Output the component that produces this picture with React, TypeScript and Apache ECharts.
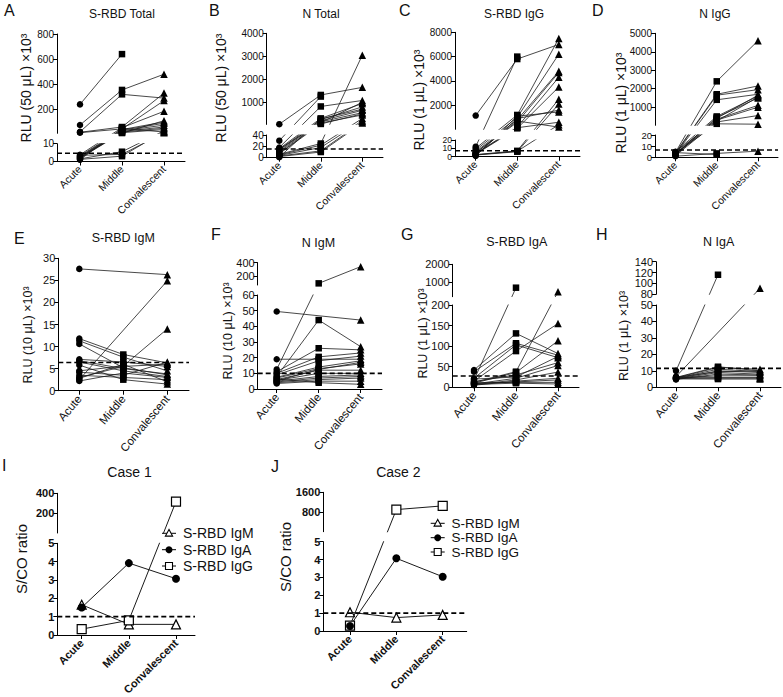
import React, { useEffect, useRef } from 'react';
import * as echarts from 'echarts';

const timepoints = ['Acute', 'Middle', 'Convalescent'];

// ---------- Panel A: S-RBD Total (RLU 50 uL x10^3) ----------
const A_acute: (number | null)[] = [240, 76, 22, 18, 15, 3.8, 3.2, 2.8, 2.5, 2.2, 2.0, 1.8, 1.5, 1.2, 1.0, 2.6, 3.5];
const A_middle: (number | null)[] = [640, 355, 320, 60, 45, 55, 40, 35, 30, 25, 20, 15, 5.5, 3, 50, 12, 4];
const A_conv: (number | null)[] = [null, 480, 290, 330, 270, 185, 100, 90, 75, 60, 50, 40, 30, 25, 20, 110, 15];
const A_cutoff = 4.6;
const A_ticksLow = [0, 10];
const A_ticksHigh = [200, 400, 600, 800];

// ---------- Panel B: N Total ----------
const B_acute: (number | null)[] = [50, 30, 18, 16, 14, 12, 10, 8, 6, 5, 4, 3, 2, 1, 15, 7];
const B_middle: (number | null)[] = [1320, 1250, 820, 300, 250, 200, 150, 100, 25, 22, 18, 12, 10, 280, 120, 60];
const B_conv: (number | null)[] = [1650, null, 1080, 950, 800, 650, 550, 450, 3050, 300, 200, 150, 100, 700, 1000, 500];
const B_cutoff = 15.3;
const B_ticksLow = [0, 20, 40];
const B_ticksHigh = [1000, 2000, 3000, 4000];

// ---------- Panel C: S-RBD IgG ----------
const C_acute: (number | null)[] = [1150, 12, 10, 8, 6, 5, 4, 3, 2.5, 2, 1.5, 1, 3.5, 2.2, 4.5];
const C_middle: (number | null)[] = [5800, 6000, 1200, 1000, 800, 600, 200, 100, 7, 6, 900, 1100, 150, 6.5, 700];
const C_conv: (number | null)[] = [7000, null, 7500, 6200, 4800, 4700, 4300, 3500, 2500, 2100, 1600, 1450, 600, 400, 200];
const C_cutoff = 7.2;
const C_ticksLow = [0, 10, 20];
const C_ticksHigh = [2000, 4000, 6000, 8000];

// ---------- Panel D: N IgG ----------
const D_acute: (number | null)[] = [4.5, 4, 3.5, 3, 5, 2.5, 2, 4.8, 1.5, 3.8, 1, 4.2, 2.8, 3.2];
const D_middle: (number | null)[] = [2400, 1700, 1650, 1400, 500, 450, 350, 300, 200, 100, 3.5, 2.5, 250, 400];
const D_conv: (number | null)[] = [4600, 2150, 1950, 1700, 1600, 1500, 1100, 1000, 550, 80, 5.5, null, 1550, 1650];
const D_cutoff = 6.5;
const D_ticksLow = [0, 10, 20];
const D_ticksHigh = [1000, 2000, 3000, 4000, 5000];

// ---------- Panel E: S-RBD IgM ----------
const E_acute: (number | null)[] = [27.6, 11.8, 11.3, 10.6, 7.1, 6.8, 6.5, 2.5, 4.5, 4.2, 3.5, 2.8, 5.8, 2.2, 3.0];
const E_middle: (number | null)[] = [null, 8.2, 7.6, 5.2, 6.5, 5.0, 4.5, null, 5.6, 3.5, 3.0, 6.0, 2.5, 4.0, 5.5];
const E_conv: (number | null)[] = [26.3, 6.3, 4.5, 3.6, 5.5, 3.8, 3.2, 24.9, 14, 6.5, 2.5, 2.0, 1.5, 3.0, 6.0];
const E_cutoff = 6.4;
const E_ticks = [0, 5, 10, 15, 20, 25, 30];

// ---------- Panel F: N IgM ----------
const F_acute: (number | null)[] = [49.5, 19, 12.5, 8, 11, 10, 9, 7.5, 7, 6, 5.5, 5, 4.5, 4, 3.5, 6.5, 5.2];
const F_middle: (number | null)[] = [null, 19, 85, 44, 26, 20.5, 18, 14, 13, 12, 10, 8, 7, 6, 5, 4, 12.5];
const F_conv: (number | null)[] = [44, 19, 340, 27, 25, 23, 21, 18, 16, 12, 10, 9, 8, 7, 5, 3, 17];
const F_cutoff = 10;
const F_ticksLow = [0, 10, 20, 30, 40, 50, 60];
const F_ticksHigh = [200, 400];

// ---------- Panel G: S-RBD IgA ----------
const G_acute: (number | null)[] = [42, 38, 22, 18, 15, 12, 10, 8, 6, 5, 9, 11, 7, 20, 14];
const G_middle: (number | null)[] = [131, 107, 103, 700, 88, 38, 36, 22, 18, 15, 13, 12, 10, 25, 30];
const G_conv: (number | null)[] = [82, 78, 72, null, 155, 480, 113, 53, 37, 22, 18, 12, 8, 75, 60];
const G_cutoff = 27.5;
const G_ticksLow = [0, 50, 100, 150, 200];
const G_ticksHigh = [1000, 2000];

// ---------- Panel H: N IgA ----------
const H_acute: (number | null)[] = [10, 6.5, 6, 5.8, 5.5, 5.2, 5, 4.8, 5.6, 6.2, 5.4, 5.1, 6];
const H_middle: (number | null)[] = [116, null, 12.5, 12, 11, 10, 9, 8, 7, 6, 5.5, 5, 9.5];
const H_conv: (number | null)[] = [null, 91, 10, 11, 9.5, 9, 8, 7.5, 7, 6, 5.5, 5, 10];
const H_cutoff = 11.5;
const H_ticksLow = [0, 10, 20, 30, 40, 50];
const H_ticksHigh = [80, 100, 120, 140];

// ---------- Panel I: Case 1 (S/CO ratio) ----------
const I_IgM: (number | null)[] = [1.65, 0.58, 0.58];
const I_IgA: (number | null)[] = [1.5, 3.92, 3.07];
const I_IgG: (number | null)[] = [0.32, 0.8, 318];
const I_ticksLow = [0, 1, 2, 3, 4, 5];
const I_ticksHigh = [200, 400];

// ---------- Panel J: Case 2 ----------
const J_IgM: (number | null)[] = [1.05, 0.75, 0.9];
const J_IgA: (number | null)[] = [0.28, 4.07, 3.04];
const J_IgG: (number | null)[] = [0.3, 900, 1050];
const J_ticksLow = [0, 1, 2, 3, 4, 5];
const J_ticksHigh = [800, 1600];
const caseCutoff = 1;
const caseNames = ['S-RBD IgM', 'S-RBD IgA', 'S-RBD IgG'];

const FONT = '"Liberation Sans", Arial, Helvetica, sans-serif';

type Marker = { symbol: string; fill: string; size: number; z: number };
type Trace = { vals: (number | null)[]; markers: Marker[]; lw: number };
type Seg = { min: number; max: number; top: number; bottom: number; ticks: number[]; fs?: number };
type Panel = {
  letter: string; lx: number; ly: number;
  title: string; tx: number; ty: number; tsize: number;
  ylabel: string; yx: number; yy: number; ysize: number;
  axisX: number; axisEnd: number; c0: number; c2: number;
  segs: Seg[]; cutoff: number; traces: Trace[];
  tickSize: number; bold: boolean; xlSize: number; xlRot: number;
  legend?: { ix: number; tx: number; ys: number[]; size: number };
};

const circ: Marker = { symbol: 'circle', fill: '#000', size: 6.5, z: 3 };
const sq: Marker = { symbol: 'rect', fill: '#000', size: 6.5, z: 3 };
const tri: Marker = { symbol: 'triangle', fill: '#000', size: 7.5, z: 3 };

function rluTraces(a: (number | null)[], m: (number | null)[], c: (number | null)[]): Trace[] {
  return a.map((v, i) => ({ vals: [v, m[i], c[i]], markers: [circ, sq, tri], lw: 0.8 }));
}
const oTri: Marker = { symbol: 'triangle', fill: '#fff', size: 9, z: 3 };
const fCirc: Marker = { symbol: 'circle', fill: '#000', size: 8, z: 5 };
const oSq: Marker = { symbol: 'rect', fill: '#fff', size: 9, z: 4 };
function caseTraces(m: (number | null)[], a: (number | null)[], g: (number | null)[]): Trace[] {
  return [
    { vals: m, markers: [oTri, oTri, oTri], lw: 1 },
    { vals: a, markers: [fCirc, fCirc, fCirc], lw: 1 },
    { vals: g, markers: [oSq, oSq, oSq], lw: 1 },
  ];
}

const rlu50 = 'RLU (50 μL) ×10³';
const rlu1 = 'RLU (1 μL) ×10³';
const rlu10 = 'RLU (10 μL) ×10³';

const panels: Panel[] = [
  { letter: 'A', lx: 4, ly: 10.5, title: 'S-RBD Total', tx: 122, ty: 14, tsize: 12, ylabel: rlu50, yx: 26, yy: 88, ysize: 14,
    axisX: 57, axisEnd: 185, c0: 80, c2: 164,
    segs: [{ min: 0, max: 10, top: 143.7, bottom: 161.5, ticks: A_ticksLow }, { min: 10, max: 800, top: 34, bottom: 133.3, ticks: A_ticksHigh }],
    cutoff: A_cutoff, traces: rluTraces(A_acute, A_middle, A_conv), tickSize: 10, bold: false, xlSize: 10.5, xlRot: 45 },
  { letter: 'B', lx: 209, ly: 10.5, title: 'N Total', tx: 321, ty: 14, tsize: 12, ylabel: rlu50, yx: 221, yy: 88, ysize: 14,
    axisX: 266.7, axisEnd: 383, c0: 279.3, c2: 362.3,
    segs: [{ min: 0, max: 40, top: 135, bottom: 157.7, ticks: B_ticksLow }, { min: 40, max: 4000, top: 33.3, bottom: 124.4, ticks: B_ticksHigh }],
    cutoff: B_cutoff, traces: rluTraces(B_acute, B_middle, B_conv), tickSize: 10, bold: false, xlSize: 10.5, xlRot: 45 },
  { letter: 'C', lx: 399, ly: 10.5, title: 'S-RBD IgG', tx: 514, ty: 13.5, tsize: 12, ylabel: rlu1, yx: 419, yy: 100, ysize: 14,
    axisX: 455, axisEnd: 580, c0: 475.7, c2: 558.8,
    segs: [{ min: 0, max: 20, top: 140, bottom: 156.7, ticks: C_ticksLow, fs: 8.5 }, { min: 20, max: 8000, top: 32.3, bottom: 129.3, ticks: C_ticksHigh }],
    cutoff: C_cutoff, traces: rluTraces(C_acute, C_middle, C_conv), tickSize: 10, bold: false, xlSize: 10.5, xlRot: 45 },
  { letter: 'D', lx: 592, ly: 10.5, title: 'N IgG', tx: 715, ty: 14, tsize: 12, ylabel: rlu1, yx: 621, yy: 103, ysize: 14,
    axisX: 655, axisEnd: 778, c0: 675.5, c2: 758,
    segs: [{ min: 0, max: 20, top: 135, bottom: 157.3, ticks: D_ticksLow, fs: 9.5 }, { min: 20, max: 5000, top: 33.3, bottom: 125.3, ticks: D_ticksHigh }],
    cutoff: D_cutoff, traces: rluTraces(D_acute, D_middle, D_conv), tickSize: 10, bold: false, xlSize: 10.5, xlRot: 45 },
  { letter: 'E', lx: 14, ly: 238.5, title: 'S-RBD IgM', tx: 123.3, ty: 238.3, tsize: 12.5, ylabel: rlu10, yx: 27.5, yy: 335, ysize: 12.5,
    axisX: 58.3, axisEnd: 189, c0: 79.3, c2: 167.3,
    segs: [{ min: 0, max: 30, top: 258.3, bottom: 390.7, ticks: E_ticks }],
    cutoff: E_cutoff, traces: rluTraces(E_acute, E_middle, E_conv), tickSize: 11, bold: false, xlSize: 11.5, xlRot: 50 },
  { letter: 'F', lx: 211, ly: 234, title: 'N IgM', tx: 318.5, ty: 243, tsize: 12.5, ylabel: rlu10, yx: 227.5, yy: 331, ysize: 12.5,
    axisX: 257.7, axisEnd: 382, c0: 276.7, c2: 360.7,
    segs: [{ min: 0, max: 60, top: 295, bottom: 389, ticks: F_ticksLow }, { min: 60, max: 400, top: 262.7, bottom: 285, ticks: F_ticksHigh }],
    cutoff: F_cutoff, traces: rluTraces(F_acute, F_middle, F_conv), tickSize: 11, bold: false, xlSize: 11.5, xlRot: 50 },
  { letter: 'G', lx: 401, ly: 234, title: 'S-RBD IgA', tx: 516.7, ty: 241.7, tsize: 12.5, ylabel: rlu1, yx: 422.5, yy: 333.5, ysize: 12.5,
    axisX: 452.7, axisEnd: 579, c0: 474, c2: 558,
    segs: [{ min: 0, max: 200, top: 305, bottom: 387.3, ticks: G_ticksLow }, { min: 200, max: 2000, top: 264.3, bottom: 296.7, ticks: G_ticksHigh }],
    cutoff: G_cutoff, traces: rluTraces(G_acute, G_middle, G_conv), tickSize: 11, bold: false, xlSize: 11.5, xlRot: 50 },
  { letter: 'H', lx: 596, ly: 234, title: 'N IgA', tx: 718.7, ty: 241.7, tsize: 12.5, ylabel: rlu1, yx: 624, yy: 336, ysize: 12.5,
    axisX: 656, axisEnd: 781, c0: 676, c2: 760,
    segs: [{ min: 0, max: 50, top: 305, bottom: 387.3, ticks: H_ticksLow }, { min: 80, max: 140, top: 261.7, bottom: 294.3, ticks: H_ticksHigh }],
    cutoff: H_cutoff, traces: rluTraces(H_acute, H_middle, H_conv), tickSize: 11, bold: false, xlSize: 11.5, xlRot: 50 },
  { letter: 'I', lx: 2, ly: 465, title: 'Case 1', tx: 129.5, ty: 472.3, tsize: 14, ylabel: 'S/CO ratio', yx: 21.7, yy: 559, ysize: 15,
    axisX: 57.3, axisEnd: 195, c0: 81.7, c2: 176,
    segs: [{ min: 0, max: 5, top: 543.3, bottom: 635, ticks: I_ticksLow }, { min: 5, max: 400, top: 493.3, bottom: 533, ticks: I_ticksHigh }],
    cutoff: caseCutoff, traces: caseTraces(I_IgM, I_IgA, I_IgG), tickSize: 11, bold: true, xlSize: 11, xlRot: 45,
    legend: { ix: 169, tx: 183, ys: [533.3, 549.7, 566], size: 14 } },
  { letter: 'J', lx: 271, ly: 466, title: 'Case 2', tx: 398.3, ty: 471.7, tsize: 14, ylabel: 'S/CO ratio', yx: 285, yy: 557, ysize: 15,
    axisX: 323.3, axisEnd: 466.7, c0: 350, c2: 442.7,
    segs: [{ min: 0, max: 5, top: 541.7, bottom: 631, ticks: J_ticksLow }, { min: 5, max: 1600, top: 492.3, bottom: 531.7, ticks: J_ticksHigh }],
    cutoff: caseCutoff, traces: caseTraces(J_IgM, J_IgA, J_IgG), tickSize: 11, bold: true, xlSize: 11, xlRot: 45,
    legend: { ix: 437.7, tx: 451.5, ys: [523.3, 537.7, 552], size: 13.5 } },
];

function buildOption() {
  const grid: any[] = [];
  const xAxis: any[] = [];
  const yAxis: any[] = [];
  const series: any[] = [];
  const graphic: any[] = [];
  const ink = '#111';

  panels.forEach((p) => {
    const spacing = (p.c2 - p.c0) / 2;
    const xmin = (p.axisX - p.c0) / spacing;
    const xmax = (p.axisEnd - p.c0) / spacing;
    const segOf = (v: number) => {
      for (let k = 0; k < p.segs.length; k++) if (v <= p.segs[k].max) return k;
      return p.segs.length - 1;
    };
    const px = (v: number) => {
      const s = p.segs[segOf(v)];
      return s.bottom - ((v - s.min) / (s.max - s.min)) * (s.bottom - s.top);
    };
    const toSeg = (v: number, k: number) => {
      const s = p.segs[k];
      return s.min + ((s.bottom - px(v)) / (s.bottom - s.top)) * (s.max - s.min);
    };

    p.segs.forEach((s, k) => {
      const gi = grid.length;
      grid.push({ left: p.axisX, top: s.top, width: p.axisEnd - p.axisX, height: s.bottom - s.top, containLabel: false, outerBoundsMode: 'none' });
      xAxis.push({
        gridIndex: gi, type: 'value', min: xmin, max: xmax, show: k === 0,
        axisLine: { show: true, onZero: false, lineStyle: { color: '#000', width: 1 } },
        axisTick: { show: true, customValues: [0, 1, 2], length: 4, lineStyle: { color: '#000', width: 1 } },
        axisLabel: {
          show: true, customValues: [0, 1, 2], rotate: p.xlRot, margin: 6, hideOverlap: false,
          showMinLabel: true, showMaxLabel: true,
          formatter: (v: number) => timepoints[Math.round(v)] ?? '',
          fontSize: p.xlSize, fontFamily: FONT, color: ink, fontWeight: p.bold ? 'bold' : 'normal',
        },
        splitLine: { show: false },
      });
      const fs = s.fs ?? p.tickSize;
      // two y axes on the same grid: alternate tick labels, so that tight labels are never dropped
      const even = s.ticks.filter((_, i) => i % 2 === 0);
      const odd = s.ticks.filter((_, i) => i % 2 === 1);
      const yi = yAxis.length;
      [even, odd].forEach((tks, part) => {
        yAxis.push({
          gridIndex: gi, type: 'value', min: s.min, max: s.max, position: 'left', offset: 0,
          axisLine: { show: part === 0, onZero: false, lineStyle: { color: '#000', width: 1 } },
          axisTick: { show: tks.length > 0, customValues: tks, length: 4, lineStyle: { color: '#000', width: 1 } },
          axisLabel: {
            show: tks.length > 0, customValues: tks, margin: 3, hideOverlap: false,
            showMinLabel: true, showMaxLabel: true,
            formatter: (v: number) => String(v),
            fontSize: fs, fontFamily: FONT, color: ink, fontWeight: p.bold ? 'bold' : 'normal',
          },
          splitLine: { show: false },
        });
      });

      // connecting lines (continuous in display space, clipped to each segment)
      p.traces.forEach((tr) => {
        const data: number[][] = [];
        tr.vals.forEach((v, j) => { if (v != null) data.push([j, toSeg(v, k)]); });
        series.push({
          type: 'line', xAxisIndex: gi, yAxisIndex: yi, data, symbol: 'none', showSymbol: false,
          clip: true, silent: true, lineStyle: { color: '#1a1a1a', width: tr.lw }, z: 2,
        });
      });

      // markers belonging to this segment
      const groups = new Map<string, { m: Marker; data: number[][] }>();
      p.traces.forEach((tr) => {
        tr.vals.forEach((v, j) => {
          if (v == null || segOf(v) !== k) return;
          const m = tr.markers[j];
          const key = m.symbol + '|' + m.fill + '|' + m.size;
          if (!groups.has(key)) groups.set(key, { m, data: [] });
          groups.get(key)!.data.push([j, v]);
        });
      });
      groups.forEach((g) => {
        series.push({
          type: 'scatter', xAxisIndex: gi, yAxisIndex: yi, data: g.data, symbol: g.m.symbol, symbolSize: g.m.size,
          itemStyle: { color: g.m.fill, borderColor: '#000', borderWidth: g.m.fill === '#fff' ? 1.2 : 0, opacity: 1 },
          z: g.m.z, silent: true, clip: false,
        });
      });

      if (k === 0) {
        series.push({
          type: 'line', xAxisIndex: gi, yAxisIndex: yi, data: [[xmin, p.cutoff], [xmax, p.cutoff]],
          symbol: 'none', showSymbol: false, silent: true, clip: false,
          lineStyle: { color: '#000', width: 1.6, type: [5, 3] }, z: 6,
        });
      }
    });

    // texts
    graphic.push({ type: 'text', x: p.lx, y: p.ly, silent: true,
      style: { text: p.letter, fontSize: 16, fontFamily: FONT, fill: ink, align: 'left', verticalAlign: 'middle' } });
    graphic.push({ type: 'text', x: p.tx, y: p.ty, silent: true,
      style: { text: p.title, fontSize: p.tsize, fontFamily: FONT, fill: ink, align: 'center', verticalAlign: 'middle' } });
    graphic.push({ type: 'text', x: p.yx, y: p.yy, rotation: Math.PI / 2, silent: true,
      style: { text: p.ylabel, fontSize: p.ysize, fontFamily: FONT, fill: ink, align: 'center', verticalAlign: 'middle' } });

    if (p.legend) {
      const L = p.legend;
      caseNames.forEach((name, i) => {
        const y = L.ys[i];
        graphic.push({ type: 'line', silent: true, shape: { x1: L.ix - 7, y1: y, x2: L.ix + 7, y2: y }, style: { stroke: '#000', lineWidth: 1 } });
        if (i === 0) {
          graphic.push({ type: 'polygon', silent: true, shape: { points: [[L.ix, y - 3.8], [L.ix - 3.6, y + 2.8], [L.ix + 3.6, y + 2.8]] },
            style: { fill: '#fff', stroke: '#000', lineWidth: 1.1 } });
        } else if (i === 1) {
          graphic.push({ type: 'circle', silent: true, shape: { cx: L.ix, cy: y, r: 3.5 }, style: { fill: '#000' } });
        } else {
          graphic.push({ type: 'rect', silent: true, shape: { x: L.ix - 3.5, y: y - 3.5, width: 7, height: 7 },
            style: { fill: '#fff', stroke: '#000', lineWidth: 1.1 } });
        }
        graphic.push({ type: 'text', x: L.tx, y, silent: true,
          style: { text: name, fontSize: L.size, lineHeight: L.size, fontFamily: FONT, fill: ink, align: 'left', verticalAlign: 'middle' } });
      });
    }
  });

  return { animation: false, backgroundColor: '#fff', grid, xAxis, yAxis, series, graphic };
}

export default function App() {
  const ref = useRef<HTMLDivElement>(null);
  useEffect(() => {
    if (!ref.current) return;
    const chart = echarts.init(ref.current, undefined, { renderer: 'svg' });
    chart.setOption(buildOption() as any);
    return () => chart.dispose();
  }, []);
  return (
    <div
      ref={ref}
      style={{ position: 'fixed', left: 0, top: 0, width: 783, height: 697, background: '#fff' }}
    />
  );
}
